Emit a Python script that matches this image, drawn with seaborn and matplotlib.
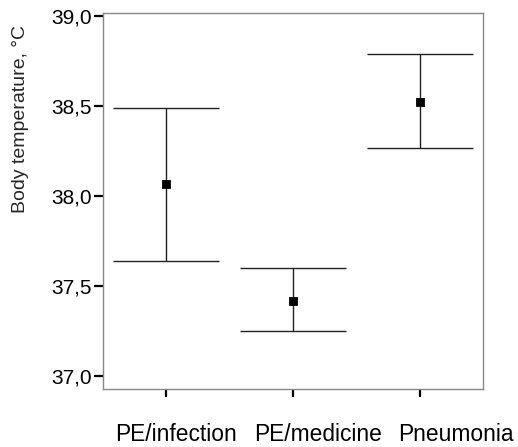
import numpy as np
import pandas as pd
import matplotlib
matplotlib.use("Agg")
import matplotlib.pyplot as plt
import seaborn as sns
from matplotlib.ticker import FuncFormatter
from matplotlib.transforms import ScaledTranslation

# values (mean and interval ends)
groups = ["PE/infection", "PE/medicine", "Pneumonia"]
means = [38.07, 37.42, 38.525]
lower = [37.64, 37.25, 38.27]
upper = [38.49, 37.60, 38.79]
yticks = [37.0, 37.5, 38.0, 38.5, 39.0]

df = pd.DataFrame({"group": groups, "mean": means, "lower": lower, "upper": upper})

sns.set_theme(style="white")
plt.rcParams["font.family"] = ["Liberation Sans", "DejaVu Sans"]

fig = plt.figure(figsize=(5.18, 4.47), dpi=100)
ax = fig.add_axes([0.1988, 0.1298, 0.7336, 0.8411])

sns.pointplot(data=df, x="group", y="mean", linestyle="none", markers="s",
              color="black", markersize=4.5, errorbar=None, ax=ax)

pos = np.arange(len(groups))
yerr = np.vstack([df["mean"] - df["lower"], df["upper"] - df["mean"]])
ax.errorbar(pos, df["mean"], yerr=yerr, fmt="none", ecolor="#222222",
            elinewidth=1.0, capsize=38, capthick=1.0, zorder=1)

ax.set_xlim(-0.5, 2.5)
ax.set_ylim(36.93, 39.017)
ax.set_yticks(yticks)
ax.yaxis.set_major_formatter(FuncFormatter(lambda v, p: f"{v:.1f}".replace(".", ",")))

ax.set_xlabel("")
ax.set_ylabel("Body temperature, °C", fontsize=14, loc="top")
ax.yaxis.set_label_coords(-0.195, 0.968)

for s in ax.spines.values():
    s.set_color("#888888")
    s.set_linewidth(1.0)

ax.tick_params(axis="y", which="major", left=True, length=6.5, width=1.6,
               color="black", pad=1.5, labelsize=15, labelcolor="black")
ax.tick_params(axis="x", which="major", bottom=True, length=5.5, width=1.6,
               color="black", pad=19, labelsize=16.4, labelcolor="black")

# the category names sit a little right of their ticks in the original
for lbl, dx in zip(ax.get_xticklabels(), [10, 25, 36]):
    lbl.set_transform(lbl.get_transform() + ScaledTranslation(dx / 100, 0, fig.dpi_scale_trans))

fig.savefig("out.png", dpi=100)
